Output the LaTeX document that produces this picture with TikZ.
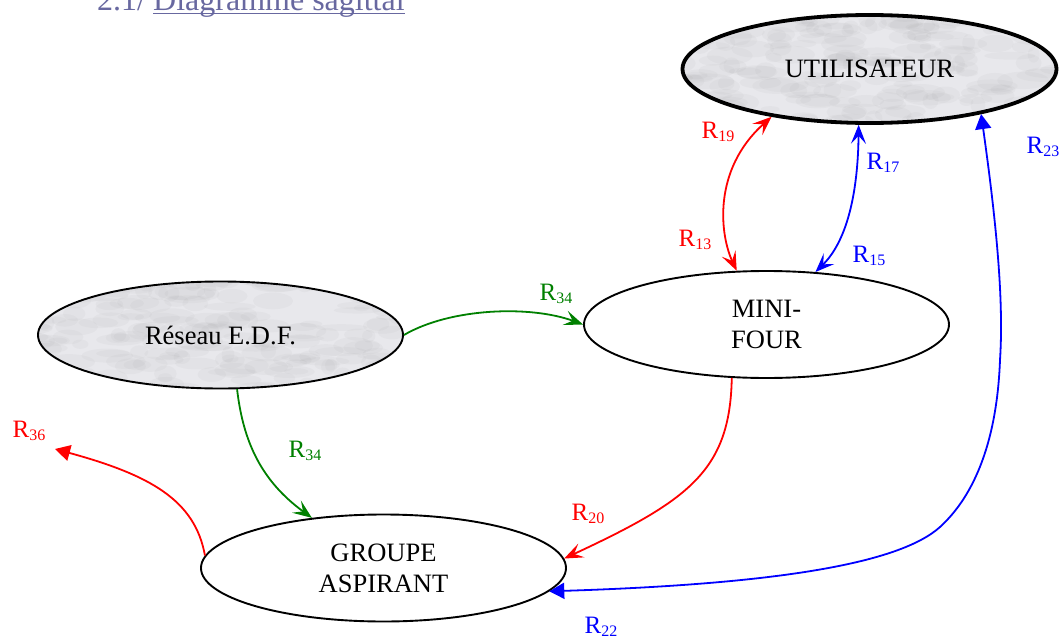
\documentclass[tikz,border=0pt]{standalone}
\usepackage{fontspec}
\setmainfont{Liberation Serif}
\usetikzlibrary{shapes.geometric,arrows.meta,calc}
\definecolor{dgreen}{RGB}{0,128,0}
\definecolor{titlecol}{RGB}{104,104,160}
\definecolor{marblebase}{RGB}{232,232,236}
\newcommand\Rsub[1]{R\raisebox{-3pt}{\fontsize{16}{16}\selectfont #1}}
\begin{document}
\begin{tikzpicture}[x=1pt,y=-1pt,
  ent/.style={ellipse, draw, line width=1.9pt, inner sep=0pt,
    minimum width=365pt, minimum height=107pt, align=center,
    font=\fontsize{26.5}{31}\selectfont},
  marble/.style={path picture={
    \fill[marblebase] (path picture bounding box.south west) rectangle (path picture bounding box.north east);
    \foreach \k in {1,...,220}{
      \path (path picture bounding box.center) ++({rnd*400-200},{rnd*120-60}) coordinate (mq);
      \fill[black!55, opacity=0.045, rotate around={25:(mq)}] (mq) ellipse [x radius={6+20*rnd}, y radius={3+6*rnd}];
    }}},
  rlab/.style={inner sep=0pt, font=\fontsize{25}{28}\selectfont},
  conn/.style={line width=1.8pt},
  stl/.tip={Stealth[length=19pt,width=15pt,inset=8pt]},
  tri/.tip={Triangle[length=15pt,width=16pt]}
]
\pgfmathsetseed{7}
\useasboundingbox (0,0) rectangle (1061,637);
\clip (0,0) rectangle (1061,637);

% title
\node[anchor=base west, inner sep=0pt, text=titlecol, font=\fontsize{32}{36}\selectfont] (num) at (97,10) {2.1/};
\node[anchor=base west, inner sep=0pt, text=titlecol, font=\fontsize{32}{36}\selectfont] (diag) at (153,10) {Diagramme sagittal};
\draw[titlecol, line width=1.3pt] ($(diag.base west)+(0,3.5)$) -- ($(diag.base east)+(0,3.5)$);

% entities
\node[ent, marble, line width=3.8pt, minimum width=374pt, minimum height=108pt] (ut) at (869.5,69) {UTILISATEUR};
\node[ent, marble] (re) at (220.5,335) {Réseau E.D.F.};
\node[ent] (mf) at (766.5,324.5) {MINI-\\FOUR};
\node[ent] (ga) at (383.5,568) {GROUPE\\ASPIRANT};
\coordinate (out36) at (55,449);

% connectors
\draw[conn, red, {stl}-{stl}] (mf.119) .. controls (720,235) and (712,170) .. (ut.206);
\draw[conn, blue, {stl}-{stl}] (mf.47) .. controls (848,240) and (858,190) .. (ut.259);
\draw[conn, dgreen, -{stl}] (re.east) .. controls (450,308) and (530,305) .. (mf.west);
\draw[conn, dgreen, -{stl}] (re.287) .. controls (243,440) and (260,480) .. (ga.145);
\draw[conn, red, -{stl}] (mf.237) .. controls (730,470) and (690,500) .. (ga.3.5);
\draw[conn, red, -{tri}] (ga.176.5) .. controls (195,500) and (150,475) .. (out36);
\draw[conn, blue, {tri}-{tri}] (ut.338.6) .. controls (996,220) and (1004,300) .. (1000,360)
   .. controls (997,440) and (975,495) .. (940,527)
   .. controls (900,563) and (780,584) .. (ga.352.6);

% labels
\node[rlab, text=red] (l19) at (718,132) {\Rsub{19}};
\node[rlab, text=red] (l13) at (695,240) {\Rsub{13}};
\node[rlab, text=blue] (l17) at (883,163) {\Rsub{17}};
\node[rlab, text=blue] (l15) at (869,256) {\Rsub{15}};
\node[rlab, text=blue] (l23) at (1043,147) {\Rsub{23}};
\node[rlab, text=dgreen] (l34a) at (556,294) {\Rsub{34}};
\node[rlab, text=dgreen] (l34b) at (305,451) {\Rsub{34}};
\node[rlab, text=red] (l36) at (29,431) {\Rsub{36}};
\node[rlab, text=red] (l20) at (588,514) {\Rsub{20}};
\node[rlab, text=blue] (l22) at (601,627) {\Rsub{22}};
\end{tikzpicture}
\end{document}
